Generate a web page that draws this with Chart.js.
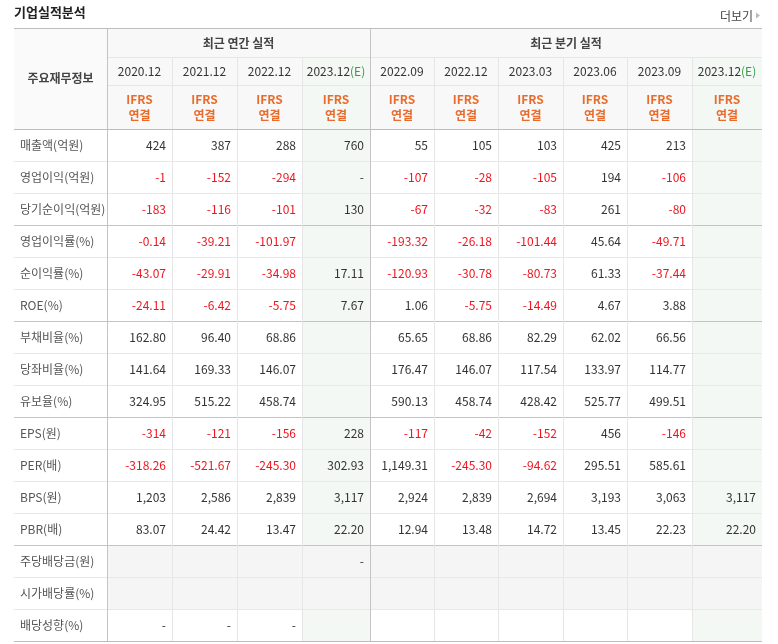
<!DOCTYPE html>
<html><head><meta charset="utf-8">
<script src="https://cdn.jsdelivr.net/npm/chart.js@4"></script>
<style>body{margin:0;background:#fff}</style></head>
<body><canvas id="c" width="778" height="644"></canvas>
<script>
const periods = ["2020.12","2021.12","2022.12","2023.12","2022.09","2022.12","2023.03","2023.06","2023.09","2023.12"];
const estimate = [false,false,false,true,false,false,false,false,false,true];
const rowLabels = ["매출액(억원)","영업이익(억원)","당기순이익(억원)","영업이익률(%)","순이익률(%)","ROE(%)","부채비율(%)","당좌비율(%)","유보율(%)","EPS(원)","PER(배)","BPS(원)","PBR(배)","주당배당금(원)","시가배당률(%)","배당성향(%)"];
const r_sales = ["424","387","288","760","55","105","103","425","213",""];
const r_op = ["-1","-152","-294","-","-107","-28","-105","194","-106",""];
const r_net = ["-183","-116","-101","130","-67","-32","-83","261","-80",""];
const r_opm = ["-0.14","-39.21","-101.97","","-193.32","-26.18","-101.44","45.64","-49.71",""];
const r_npm = ["-43.07","-29.91","-34.98","17.11","-120.93","-30.78","-80.73","61.33","-37.44",""];
const r_roe = ["-24.11","-6.42","-5.75","7.67","1.06","-5.75","-14.49","4.67","3.88",""];
const r_debt = ["162.80","96.40","68.86","","65.65","68.86","82.29","62.02","66.56",""];
const r_quick = ["141.64","169.33","146.07","","176.47","146.07","117.54","133.97","114.77",""];
const r_reserve = ["324.95","515.22","458.74","","590.13","458.74","428.42","525.77","499.51",""];
const r_eps = ["-314","-121","-156","228","-117","-42","-152","456","-146",""];
const r_per = ["-318.26","-521.67","-245.30","302.93","1,149.31","-245.30","-94.62","295.51","585.61",""];
const r_bps = ["1,203","2,586","2,839","3,117","2,924","2,839","2,694","3,193","3,063","3,117"];
const r_pbr = ["83.07","24.42","13.47","22.20","12.94","13.48","14.72","13.45","22.23","22.20"];
const r_dps = ["","","","-","","","","","",""];
const r_yield = ["","","","","","","","","",""];
const r_payout = ["-","-","-","","","","","","",""];
const rows = [r_sales,r_op,r_net,r_opm,r_npm,r_roe,r_debt,r_quick,r_reserve,r_eps,r_per,r_bps,r_pbr,r_dps,r_yield,r_payout];

// layout (pixels inside chart area)
const colEdges = [0,93,158,223,288,356,420,484,549,613,678,748];
const rowEdges = [0,29,57,101];
const rowH = 32;
const groupEnds = [2,5,8,12];
const grayRows = [13,14];
const KR = '"Noto Sans CJK KR", sans-serif';

const tablePlugin = {
  id:'table',
  afterDraw(chart){
    const ctx = chart.ctx, xs = chart.scales.x, ys = chart.scales.y;
    const X = v => xs.getPixelForValue(v), Y = v => ys.getPixelForValue(v);
    const total = rowEdges[3] + rowLabels.length*rowH;
    ctx.save();
    // title
    ctx.fillStyle='#222'; ctx.font='bold 13px '+KR; ctx.textBaseline='middle'; ctx.textAlign='left';
    ctx.fillText('기업실적분석', X(0), 12);
    ctx.fillStyle='#444'; ctx.font='12px '+KR; ctx.textAlign='right';
    ctx.fillText('더보기', X(748)-9, 16);
    ctx.fillStyle='#bbb'; ctx.beginPath(); const tx=X(748)-6; ctx.moveTo(tx,12.5); ctx.lineTo(tx+4,15.5); ctx.lineTo(tx,18.5); ctx.fill();
    // header background
    ctx.fillStyle='#f8f8f8'; ctx.fillRect(X(0),Y(0),X(748)-X(0),Y(rowEdges[3])-Y(0));
    ctx.fillStyle='#fafafa'; ctx.fillRect(X(0),Y(0),X(93)-X(0),Y(rowEdges[3])-Y(0));
    // estimate columns
    estimate.forEach((e,i)=>{ if(!e) return;
      ctx.fillStyle='#f3f8f4';
      ctx.fillRect(X(colEdges[i+1]),Y(rowEdges[1]),X(colEdges[i+2])-X(colEdges[i+1]),Y(total)-Y(rowEdges[1]));
    });
    // gray rows
    grayRows.forEach(r=>{
      const y0=rowEdges[3]+r*rowH;
      ctx.fillStyle='#f5f5f5';
      ctx.fillRect(X(93),Y(y0),X(748)-X(93),rowH);
    });
    // lines
    ctx.lineWidth=1;
    const hline=(y,c,x0=0,x1=748)=>{ctx.strokeStyle=c;ctx.beginPath();ctx.moveTo(X(x0),Math.round(Y(y))+0.5);ctx.lineTo(X(x1),Math.round(Y(y))+0.5);ctx.stroke();};
    const vline=(x,c,y0,y1)=>{ctx.strokeStyle=c;ctx.beginPath();ctx.moveTo(Math.round(X(x))+0.5,Y(y0));ctx.lineTo(Math.round(X(x))+0.5,Y(y1));ctx.stroke();};
    hline(rowEdges[1],'#e6e6e6',93); hline(rowEdges[2],'#e6e6e6',93);
    for(let r=0;r<rowLabels.length;r++){
      const y=rowEdges[3]+(r+1)*rowH;
      hline(y, groupEnds.includes(r)?'#c4c4c4':'#e8e8e8');
    }
    for(let i=1;i<colEdges.length-1;i++){
      const major = (i===1||i===5);
      vline(colEdges[i], major?'#c4c4c4':'#e6e6e6', major?0:rowEdges[1], total);
    }
    hline(0,'#bdbdbd'); hline(rowEdges[3],'#bdbdbd'); hline(total,'#bdbdbd');
    // header text
    ctx.textAlign='center'; ctx.fillStyle='#444'; ctx.font='bold 12px '+KR;
    ctx.fillText('주요재무정보', X(46.5), Y(50));
    ctx.fillText('최근 연간 실적', X((93+356)/2), Y(15));
    ctx.fillText('최근 분기 실적', X((356+748)/2), Y(15));
    periods.forEach((p,i)=>{
      const cx=(X(colEdges[i+1])+X(colEdges[i+2]))/2;
      ctx.font='12px '+KR; ctx.fillStyle='#333';
      if(estimate[i]){
        const w1=ctx.measureText(p).width, w2=ctx.measureText('(E)').width, s=cx-(w1+w2)/2;
        ctx.textAlign='left'; ctx.fillText(p,s,Y(43)); ctx.fillStyle='#3a9a4a'; ctx.fillText('(E)',s+w1,Y(43)); ctx.textAlign='center';
      } else ctx.fillText(p,cx,Y(43));
      ctx.fillStyle='#ea6c2c'; ctx.font='bold 12px '+KR;
      ctx.fillText('IFRS',cx,Y(71)); ctx.fillText('연결',cx,Y(87));
    });
    // body
    rowLabels.forEach((lab,r)=>{
      const cy=Y(rowEdges[3]+r*rowH+rowH/2);
      ctx.textAlign='left'; ctx.fillStyle='#555'; ctx.font='12px '+KR;
      ctx.fillText(lab,X(6),cy);
      ctx.textAlign='right';
      rows[r].forEach((v,i)=>{
        if(!v) return;
        ctx.fillStyle = (v.startsWith('-') && v.length>1) ? '#f0141e' : '#333';
        ctx.fillText(v,X(colEdges[i+2])-6,cy);
      });
    });
    ctx.restore();
  }
};

new Chart(document.getElementById('c'),{
  type:'scatter',
  data:{datasets:[{data:[]}]},
  options:{responsive:false,animation:false,devicePixelRatio:1,
    layout:{padding:{left:14,right:16,top:28,bottom:3}},
    plugins:{legend:{display:false},tooltip:{enabled:false}},
    scales:{x:{type:'linear',min:0,max:748,display:false},
            y:{type:'linear',min:0,max:613,reverse:true,display:false}}},
  plugins:[tablePlugin]
});
</script></body></html>
